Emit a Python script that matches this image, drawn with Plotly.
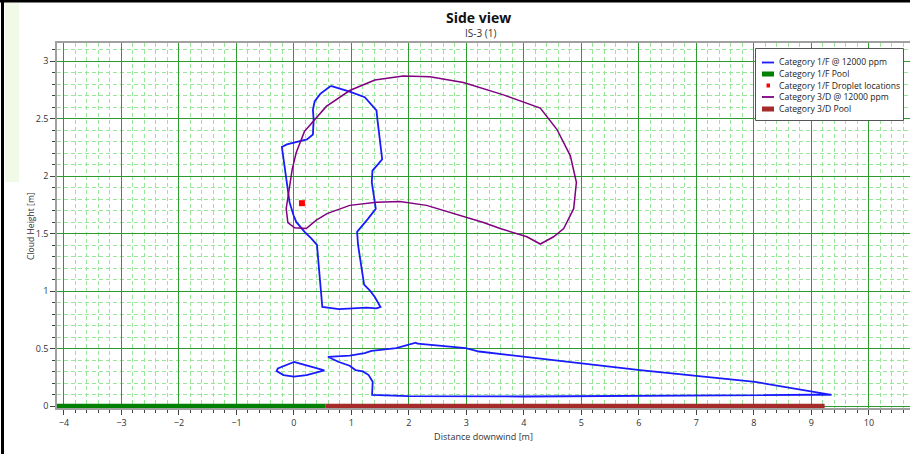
import plotly.graph_objects as go

# ---- data ----
cat1f_upper_x = [0.64, 0.97, 1.233, 1.331, 1.436, 1.453, 1.483, 1.535, 1.465, 1.366, 1.355, 1.39, 1.424,
                 1.291, 1.203, 1.099, 1.116, 1.157, 1.221, 1.331, 1.407, 1.506, 1.436, 1.262, 0.971,
                 0.785, 0.494, 0.459, 0.436, 0.401, 0.302, 0.186, 0.041, -0.006, -0.076, -0.116,
                 -0.151, -0.192, -0.209, -0.122, 0.128, 0.227, 0.331, 0.343, 0.331, 0.36, 0.459, 0.64]
cat1f_upper_y = [2.784, 2.735, 2.686, 2.635, 2.572, 2.491, 2.348, 2.147, 2.104, 2.047, 1.946, 1.832, 1.717,
                 1.631, 1.574, 1.516, 1.402, 1.258, 1.058, 1.0, 0.949, 0.862, 0.851, 0.857, 0.851,
                 0.845, 0.863, 1.086, 1.258, 1.402, 1.459, 1.516, 1.602, 1.66, 1.774, 1.92,
                 2.063, 2.219, 2.253, 2.276, 2.305, 2.319, 2.362, 2.491, 2.577, 2.649, 2.715, 2.784]

cat1f_loop_x = [0.0, -0.28, -0.30, -0.18, 0.0, 0.22, 0.53, 0.0]
cat1f_loop_y = [0.385, 0.329, 0.306, 0.271, 0.257, 0.271, 0.312, 0.385]

cat1f_lower_x = [0.59, 0.97, 1.23, 1.35, 1.78, 2.12, 2.15, 2.99, 3.22, 3.99, 6.02, 8.02, 9.35,
                 9.02, 6.0, 3.99, 1.99, 1.36, 1.37, 1.30, 1.20, 1.07, 0.97, 0.77, 0.59]
cat1f_lower_y = [0.43, 0.44, 0.462, 0.482, 0.505, 0.553, 0.544, 0.506, 0.476, 0.432, 0.315, 0.212, 0.10,
                 0.10, 0.094, 0.085, 0.088, 0.098, 0.213, 0.271, 0.303, 0.315, 0.352, 0.387, 0.43]

cat3d_x = [0.186, 0.564, 0.971, 1.407, 1.901, 2.366, 2.948, 3.645, 4.285, 4.576, 4.808, 4.913, 4.866,
           4.692, 4.517, 4.285, 4.052, 3.587, 3.297, 2.715, 2.308, 1.843, 1.436, 0.971, 0.576,
           0.39, 0.215, 0.012, -0.105, -0.134, -0.087, -0.029, 0.041, 0.128, 0.186]
cat3d_y = [2.391, 2.606, 2.744, 2.836, 2.87, 2.864, 2.813, 2.706, 2.592, 2.405, 2.176, 1.947, 1.717,
           1.545, 1.473, 1.41, 1.473, 1.545, 1.597, 1.688, 1.746, 1.78, 1.774, 1.746, 1.674,
           1.617, 1.545, 1.551, 1.597, 1.717, 1.889, 2.061, 2.205, 2.319, 2.391]

droplet_x = [0.14]
droplet_y = [1.765]

pool1f_x = [-4.3, 0.55]
pool1f_y = [0, 0]
pool3d_x = [0.55, 9.23]
pool3d_y = [0, 0]

x_ticks = [-4, -3, -2, -1, 0, 1, 2, 3, 4, 5, 6, 7, 8, 9, 10]
y_ticks = [0, 0.5, 1, 1.5, 2, 2.5, 3]
y_tick_labels = ["0", "0.5", "1", "1.5", "2", "2.5", "3"]

series_names = ["Category 1/F @ 12000 ppm", "Category 1/F Pool", "Category 1/F Droplet locations",
                "Category 3/D @ 12000 ppm", "Category 3/D Pool"]
series_colors = ["#1a1aff", "#008000", "#ff0000", "#800080", "#a52a2a"]

# ---- figure ----
W, H = 910, 454
ML, MR, MT, MB = 57, 0, 43, 46
PW, PH = W - ML - MR, H - MT - MB


def px(xp):
    return (xp - ML) / PW


def py(yp):
    return (H - MB - yp) / PH


blue_x = cat1f_upper_x + [None] + cat1f_loop_x + [None] + cat1f_lower_x
blue_y = cat1f_upper_y + [None] + cat1f_loop_y + [None] + cat1f_lower_y

fig = go.Figure()
fig.add_trace(go.Scatter(x=blue_x, y=blue_y, mode="lines", name=series_names[0],
                         line=dict(color=series_colors[0], width=1.8), connectgaps=False))
fig.add_trace(go.Scatter(x=pool1f_x, y=pool1f_y, mode="lines", name=series_names[1],
                         line=dict(color=series_colors[1], width=5)))
fig.add_trace(go.Scatter(x=droplet_x, y=droplet_y, mode="markers", name=series_names[2],
                         marker=dict(color=series_colors[2], symbol="square", size=6)))
fig.add_trace(go.Scatter(x=cat3d_x, y=cat3d_y, mode="lines", name=series_names[3],
                         line=dict(color=series_colors[3], width=1.5)))
fig.add_trace(go.Scatter(x=pool3d_x, y=pool3d_y, mode="lines", name=series_names[4],
                         line=dict(color=series_colors[4], width=5)))

font_family = "Segoe UI, Open Sans, Noto Sans, sans-serif"

axis_common = dict(
    showline=True, linecolor="#a0a0a0", linewidth=1.5, mirror=True,
    ticks="outside", ticklen=5, tickcolor="#444", tickwidth=1,
    showgrid=True, gridcolor="#2e9b2e", gridwidth=1,
    zeroline=False, automargin=False,
    tickfont=dict(size=9, color="#333", family=font_family),
)

fig.update_xaxes(
    **axis_common,
    range=[-4.12, 10.715],
    tickmode="array", tickvals=x_ticks,
    minor=dict(dtick=0.2, showgrid=True, gridcolor="#98e698", griddash="4px,3px", gridwidth=1,
               ticks="outside", ticklen=3, tickcolor="#444"),
    title=dict(text="Distance downwind [m]", font=dict(size=9, color="#333", family=font_family), standoff=6),
)
fig.update_yaxes(
    **axis_common,
    range=[-0.015, 3.157],
    tickmode="array", tickvals=y_ticks, ticktext=y_tick_labels,
    minor=dict(dtick=0.1, showgrid=True, gridcolor="#98e698", griddash="4px,3px", gridwidth=1,
               ticks="outside", ticklen=3, tickcolor="#444"),
)

annotations = [
    dict(text="<b>Side view</b>", xref="paper", yref="paper", x=px(478), y=py(17),
         xanchor="center", yanchor="middle", showarrow=False,
         font=dict(size=14, color="#111", family=font_family)),
    dict(text="IS-3 (1)", xref="paper", yref="paper", x=px(480), y=py(33),
         xanchor="center", yanchor="middle", showarrow=False,
         font=dict(size=10, color="#333", family=font_family)),
    dict(text="Cloud Height [m]", xref="paper", yref="paper", x=px(31), y=py(226),
         xanchor="center", yanchor="middle", showarrow=False, textangle=-90,
         font=dict(size=8.6, color="#333", family=font_family)),
]

shapes = [
    # screenshot frame edges
    dict(type="line", xref="paper", yref="paper", x0=px(0), x1=px(W), y0=py(1), y1=py(1),
         line=dict(color="black", width=3)),
    dict(type="line", xref="paper", yref="paper", x0=px(2.5), x1=px(2.5), y0=py(H), y1=py(0),
         line=dict(color="black", width=3)),
    dict(type="rect", xref="paper", yref="paper", x0=px(5), x1=px(19), y0=py(182), y1=py(3),
         fillcolor="#f0fae6", line=dict(width=0), layer="below"),
    # legend box
    dict(type="rect", xref="paper", yref="paper", x0=px(755.5), x1=px(903.5), y0=py(120.5), y1=py(48.5),
         fillcolor="white", line=dict(color="#555", width=1), layer="above"),
]

# manual legend (compact, like the original)
item_y = [62.5, 74, 85.5, 97, 109]
for i, (name, col) in enumerate(zip(series_names, series_colors)):
    yc = item_y[i]
    if i in (0, 3):
        shapes.append(dict(type="line", xref="paper", yref="paper", x0=px(762), x1=px(774),
                           y0=py(yc), y1=py(yc), line=dict(color=col, width=1.8), layer="above"))
    elif i in (1, 4):
        shapes.append(dict(type="rect", xref="paper", yref="paper", x0=px(762), x1=px(774),
                           y0=py(yc + 2.5), y1=py(yc - 2.5), fillcolor=col,
                           line=dict(width=0), layer="above"))
    else:
        shapes.append(dict(type="rect", xref="paper", yref="paper", x0=px(766.5), x1=px(770),
                           y0=py(yc + 2), y1=py(yc - 2), fillcolor=col,
                           line=dict(width=0), layer="above"))
    annotations.append(dict(text=name, xref="paper", yref="paper", x=px(777), y=py(yc),
                            xanchor="left", yanchor="middle", showarrow=False,
                            font=dict(size=8.6, color="#222", family=font_family)))

fig.update_layout(
    width=W, height=H,
    margin=dict(l=ML, r=MR, t=MT, b=MB, autoexpand=False),
    paper_bgcolor="white", plot_bgcolor="white",
    font=dict(family=font_family, size=9, color="#333"),
    showlegend=False,
    annotations=annotations,
    shapes=shapes,
)

fig.write_html(
    "out.html",
    config={"displayModeBar": False},
    post_script="document.body.style.margin='0px';document.body.style.overflow='hidden';",
)
